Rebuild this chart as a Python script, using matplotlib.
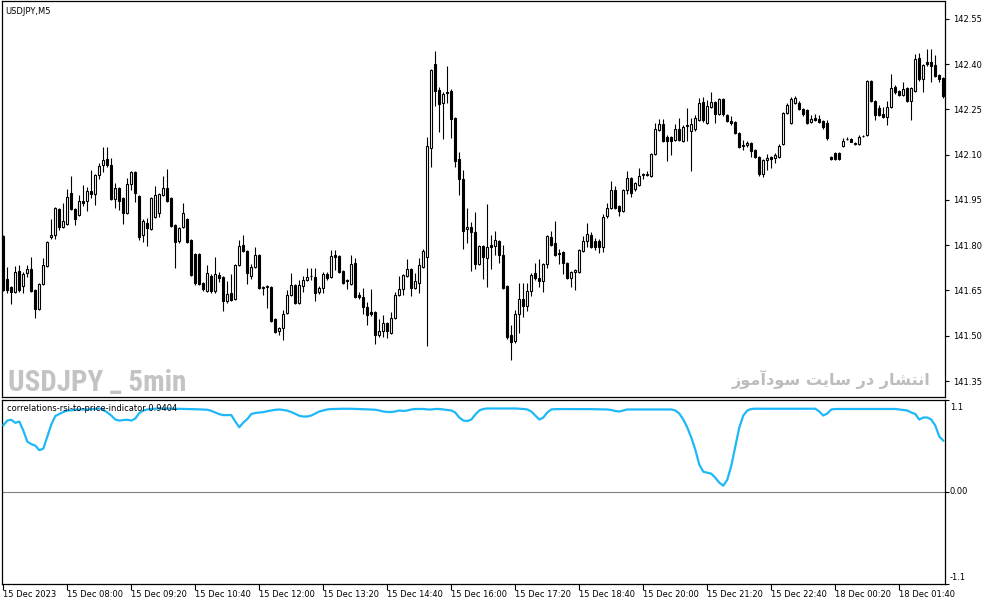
import matplotlib
matplotlib.use("Agg")
import matplotlib.pyplot as plt
import matplotlib.transforms as mtrans
import numpy as np

# ---------------- data ----------------
opens = [
    141.831, 141.688, 141.662, 141.645, 141.715, 141.665, 141.708, 141.721, 141.652, 141.589,
    141.672, 141.731, 141.827, 141.834, 141.920, 141.860, 141.870, 141.973, 141.920, 141.900,
    141.947, 141.947, 141.980, 141.970, 142.033, 142.066, 142.086, 142.066, 141.953, 141.990,
    141.957, 141.907, 142.003, 142.043, 141.963, 141.834, 141.874, 141.854, 141.894, 141.907,
    141.967, 141.990, 141.957, 141.867, 141.814, 141.860, 141.887, 141.817, 141.771, 141.771,
    141.675, 141.648, 141.698, 141.648, 141.701, 141.695, 141.615, 141.642, 141.622, 141.735,
    141.801, 141.781, 141.698, 141.728, 141.768, 141.662, 141.662, 141.662, 141.556, 141.516,
    141.526, 141.575, 141.635, 141.668, 141.609, 141.665, 141.685, 141.698, 141.695, 141.645,
    141.658, 141.705, 141.695, 141.768, 141.764, 141.715, 141.685, 141.672, 141.741, 141.635,
    141.628, 141.595, 141.579, 141.579, 141.502, 141.516, 141.542, 141.509, 141.559, 141.635,
    141.655, 141.698, 141.721, 141.658, 141.675, 141.728, 141.761, 142.122, 142.401, 142.315,
    142.272, 142.308, 142.311, 142.222, 142.086, 142.020, 141.854, 141.860, 141.844, 141.738,
    141.798, 141.758, 141.801, 141.798, 141.814, 141.768, 141.665, 141.502, 141.483, 141.572,
    141.622, 141.599, 141.648, 141.708, 141.691, 141.682, 141.738, 141.827, 141.808, 141.774,
    141.778, 141.741, 141.691, 141.711, 141.711, 141.781, 141.814, 141.834, 141.814, 141.814,
    141.794, 141.897, 141.924, 141.983, 141.930, 141.914, 141.983, 142.023, 141.986, 142.000,
    142.033, 142.033, 142.030, 142.102, 142.182, 142.202, 142.159, 142.159, 142.149, 142.185,
    142.146, 142.199, 142.179, 142.185, 142.215, 142.275, 142.205, 142.258, 142.275, 142.235,
    142.285, 142.232, 142.212, 142.209, 142.172, 142.132, 142.132, 142.139, 142.116, 142.093,
    142.036, 142.083, 142.093, 142.089, 142.093, 142.136, 142.238, 142.205, 142.272, 142.272,
    142.252, 142.248, 142.209, 142.222, 142.218, 142.212, 142.205, 142.093, 142.106, 142.106,
    142.129, 142.152, 142.152, 142.139, 142.136, 142.162, 142.166, 142.344, 142.278, 142.255,
    142.235, 142.225, 142.258, 142.325, 142.311, 142.298, 142.321, 142.278, 142.311, 142.421,
    142.351, 142.407, 142.407, 142.398, 142.364, 142.354,
]
highs = [
    141.834, 141.728, 141.665, 141.731, 141.735, 141.711, 141.735, 141.761, 141.655, 141.675,
    141.758, 141.814, 141.887, 141.927, 141.924, 141.940, 141.986, 142.030, 141.924, 141.967,
    142.000, 141.993, 142.049, 142.036, 142.073, 142.126, 142.126, 142.089, 142.006, 141.993,
    141.960, 142.023, 142.046, 142.046, 141.967, 141.887, 141.890, 141.960, 141.996, 141.973,
    142.030, 142.053, 141.960, 141.870, 141.860, 141.940, 141.890, 141.820, 141.774, 141.774,
    141.678, 141.735, 141.705, 141.761, 141.711, 141.698, 141.682, 141.705, 141.738, 141.817,
    141.834, 141.784, 141.738, 141.794, 141.771, 141.665, 141.668, 141.665, 141.559, 141.529,
    141.585, 141.652, 141.708, 141.672, 141.685, 141.698, 141.725, 141.725, 141.725, 141.665,
    141.711, 141.711, 141.784, 141.784, 141.768, 141.718, 141.688, 141.768, 141.758, 141.645,
    141.658, 141.612, 141.655, 141.582, 141.556, 141.569, 141.546, 141.579, 141.645, 141.698,
    141.705, 141.754, 141.725, 141.708, 141.758, 141.788, 142.159, 142.384, 142.444, 142.325,
    142.308, 142.394, 142.318, 142.225, 142.109, 142.049, 141.924, 141.877, 141.910, 141.801,
    141.801, 141.937, 141.834, 141.847, 141.817, 141.801, 141.668, 141.536, 141.585, 141.675,
    141.675, 141.675, 141.708, 141.741, 141.754, 141.741, 141.834, 141.847, 141.880, 141.788,
    141.781, 141.745, 141.715, 141.721, 141.788, 141.831, 141.874, 141.844, 141.824, 141.820,
    141.903, 141.940, 142.013, 141.996, 141.933, 141.986, 142.046, 142.026, 142.010, 142.056,
    142.040, 142.046, 142.106, 142.205, 142.218, 142.218, 142.166, 142.162, 142.202, 142.222,
    142.199, 142.255, 142.222, 142.232, 142.288, 142.291, 142.282, 142.308, 142.278, 142.288,
    142.288, 142.235, 142.228, 142.212, 142.176, 142.149, 142.146, 142.142, 142.119, 142.096,
    142.086, 142.102, 142.096, 142.106, 142.136, 142.242, 142.272, 142.291, 142.295, 142.278,
    142.255, 142.252, 142.232, 142.235, 142.232, 142.215, 142.215, 142.096, 142.109, 142.109,
    142.156, 142.159, 142.156, 142.142, 142.166, 142.166, 142.348, 142.348, 142.282, 142.265,
    142.258, 142.278, 142.368, 142.331, 142.315, 142.341, 142.325, 142.325, 142.434, 142.437,
    142.401, 142.451, 142.451, 142.431, 142.368, 142.358,
]
lows = [
    141.648, 141.642, 141.605, 141.642, 141.645, 141.642, 141.695, 141.645, 141.559, 141.585,
    141.668, 141.728, 141.821, 141.821, 141.851, 141.857, 141.867, 141.917, 141.867, 141.897,
    141.930, 141.914, 141.957, 141.933, 142.020, 142.043, 142.059, 141.950, 141.924, 141.917,
    141.870, 141.904, 141.983, 141.943, 141.817, 141.811, 141.798, 141.851, 141.890, 141.894,
    141.963, 141.943, 141.860, 141.725, 141.808, 141.857, 141.808, 141.698, 141.668, 141.668,
    141.648, 141.645, 141.642, 141.642, 141.678, 141.582, 141.609, 141.615, 141.619, 141.731,
    141.778, 141.672, 141.688, 141.725, 141.655, 141.635, 141.592, 141.546, 141.509, 141.502,
    141.486, 141.572, 141.632, 141.605, 141.605, 141.645, 141.682, 141.685, 141.615, 141.638,
    141.642, 141.685, 141.691, 141.718, 141.708, 141.672, 141.655, 141.668, 141.625, 141.622,
    141.572, 141.536, 141.566, 141.473, 141.496, 141.496, 141.492, 141.506, 141.556, 141.632,
    141.635, 141.695, 141.632, 141.655, 141.642, 141.725, 141.466, 142.059, 142.262, 142.175,
    142.152, 142.272, 142.156, 142.059, 141.967, 141.788, 141.808, 141.715, 141.721, 141.735,
    141.688, 141.662, 141.721, 141.768, 141.741, 141.655, 141.489, 141.420, 141.476, 141.509,
    141.562, 141.582, 141.632, 141.685, 141.662, 141.645, 141.725, 141.798, 141.764, 141.738,
    141.705, 141.688, 141.662, 141.652, 141.708, 141.778, 141.794, 141.791, 141.784, 141.774,
    141.778, 141.890, 141.920, 141.920, 141.897, 141.910, 141.970, 141.960, 141.980, 141.996,
    142.020, 142.030, 142.026, 142.099, 142.179, 142.142, 142.079, 142.099, 142.146, 142.146,
    142.142, 142.146, 142.046, 142.179, 142.212, 142.209, 142.202, 142.255, 142.205, 142.232,
    142.228, 142.209, 142.199, 142.169, 142.122, 142.116, 142.126, 142.093, 142.089, 142.030,
    142.026, 142.049, 142.056, 142.073, 142.089, 142.132, 142.235, 142.202, 142.268, 142.248,
    142.228, 142.202, 142.205, 142.212, 142.205, 142.185, 142.149, 142.083, 142.083, 142.083,
    142.126, 142.149, 142.142, 142.132, 142.132, 142.159, 142.162, 142.275, 142.215, 142.228,
    142.222, 142.199, 142.255, 142.301, 142.295, 142.295, 142.275, 142.215, 142.308, 142.344,
    142.308, 142.394, 142.341, 142.358, 142.341, 142.288,
]
closes = [
    141.652, 141.652, 141.645, 141.711, 141.652, 141.705, 141.721, 141.648, 141.589, 141.672,
    141.735, 141.811, 141.834, 141.924, 141.860, 141.880, 141.960, 141.920, 141.887, 141.947,
    141.940, 141.980, 141.970, 142.033, 142.063, 142.083, 142.066, 141.953, 141.990, 141.947,
    141.907, 142.003, 142.043, 141.973, 141.827, 141.880, 141.857, 141.957, 141.967, 141.970,
    141.990, 141.947, 141.864, 141.811, 141.857, 141.907, 141.811, 141.701, 141.675, 141.672,
    141.655, 141.708, 141.648, 141.705, 141.691, 141.615, 141.638, 141.619, 141.735, 141.798,
    141.781, 141.708, 141.728, 141.768, 141.658, 141.658, 141.665, 141.549, 141.512, 141.526,
    141.572, 141.635, 141.668, 141.609, 141.668, 141.685, 141.695, 141.698, 141.642, 141.658,
    141.705, 141.691, 141.764, 141.761, 141.711, 141.675, 141.682, 141.738, 141.628, 141.628,
    141.595, 141.569, 141.572, 141.502, 141.516, 141.542, 141.516, 141.559, 141.635, 141.655,
    141.701, 141.721, 141.658, 141.682, 141.735, 141.781, 142.129, 142.381, 142.311, 142.268,
    142.301, 142.305, 142.218, 142.079, 142.020, 141.847, 141.860, 141.844, 141.738, 141.798,
    141.761, 141.794, 141.794, 141.817, 141.768, 141.658, 141.496, 141.479, 141.572, 141.622,
    141.599, 141.648, 141.701, 141.691, 141.682, 141.738, 141.831, 141.801, 141.768, 141.771,
    141.741, 141.691, 141.711, 141.718, 141.784, 141.814, 141.837, 141.794, 141.794, 141.794,
    141.894, 141.924, 141.983, 141.924, 141.914, 141.983, 142.023, 141.973, 142.006, 142.030,
    142.036, 142.036, 142.102, 142.185, 142.202, 142.146, 142.146, 142.146, 142.185, 142.149,
    142.192, 142.195, 142.202, 142.222, 142.272, 142.215, 142.262, 142.275, 142.235, 142.285,
    142.235, 142.212, 142.205, 142.172, 142.126, 142.129, 142.139, 142.112, 142.093, 142.036,
    142.083, 142.089, 142.086, 142.099, 142.129, 142.238, 142.265, 142.285, 142.288, 142.252,
    142.235, 142.205, 142.218, 142.215, 142.209, 142.192, 142.156, 142.086, 142.086, 142.086,
    142.146, 142.152, 142.142, 142.136, 142.159, 142.162, 142.344, 142.278, 142.232, 142.232,
    142.225, 142.258, 142.321, 142.308, 142.298, 142.318, 142.278, 142.321, 142.417, 142.351,
    142.398, 142.401, 142.394, 142.361, 142.351, 142.295,
]
corr = [
    0.793, 0.849, 0.858, 0.822, 0.837, 0.730, 0.598, 0.568, 0.550, 0.496,
    0.514, 0.658, 0.801, 0.903, 0.927, 0.951, 0.969, 0.971, 0.978, 0.981,
    0.981, 0.981, 0.984, 0.989, 0.993, 0.977, 0.945, 0.909, 0.861, 0.849,
    0.855, 0.858, 0.849, 0.873, 0.939, 0.969, 0.981, 0.987, 0.990, 0.993,
    0.993, 0.992, 0.991, 0.990, 0.989, 0.988, 0.987, 0.986, 0.984, 0.982,
    0.980, 0.978, 0.965, 0.945, 0.925, 0.914, 0.914, 0.914, 0.837, 0.769,
    0.825, 0.867, 0.927, 0.939, 0.945, 0.949, 0.961, 0.969, 0.977, 0.981,
    0.975, 0.967, 0.950, 0.929, 0.906, 0.897, 0.897, 0.909, 0.933, 0.957,
    0.969, 0.981, 0.987, 0.987, 0.989, 0.990, 0.990, 0.989, 0.988, 0.986,
    0.984, 0.982, 0.980, 0.978, 0.969, 0.957, 0.951, 0.951, 0.957, 0.969,
    0.963, 0.969, 0.981, 0.987, 0.987, 0.987, 0.981, 0.981, 0.987, 0.987,
    0.981, 0.975, 0.969, 0.945, 0.885, 0.849, 0.843, 0.861, 0.921, 0.969,
    0.987, 0.993, 0.993, 0.993, 0.993, 0.993, 0.993, 0.993, 0.993, 0.990,
    0.987, 0.981, 0.957, 0.909, 0.861, 0.885, 0.945, 0.981, 0.985, 0.986,
    0.986, 0.986, 0.986, 0.986, 0.986, 0.985, 0.985, 0.985, 0.984, 0.984,
    0.983, 0.981, 0.975, 0.963, 0.957, 0.969, 0.981, 0.981, 0.981, 0.981,
    0.981, 0.981, 0.981, 0.981, 0.981, 0.981, 0.981, 0.981, 0.969, 0.933,
    0.861, 0.766, 0.646, 0.502, 0.323, 0.239, 0.227, 0.215, 0.167, 0.108,
    0.072, 0.144, 0.311, 0.538, 0.766, 0.909, 0.969, 0.987, 0.990, 0.990,
    0.990, 0.990, 0.990, 0.990, 0.990, 0.990, 0.990, 0.990, 0.990, 0.990,
    0.990, 0.990, 0.990, 0.990, 0.957, 0.909, 0.933, 0.981, 0.987, 0.987,
    0.987, 0.987, 0.987, 0.987, 0.987, 0.987, 0.987, 0.987, 0.987, 0.987,
    0.987, 0.987, 0.987, 0.987, 0.981, 0.975, 0.969, 0.945, 0.927, 0.861,
    0.885, 0.885, 0.861, 0.789, 0.658, 0.610,
]
price_ticks = [142.55, 142.40, 142.25, 142.10, 141.95, 141.80, 141.65, 141.50, 141.35]
time_labels = [
    "15 Dec 2023", "15 Dec 08:00", "15 Dec 09:20", "15 Dec 10:40", "15 Dec 12:00",
    "15 Dec 13:20", "15 Dec 14:40", "15 Dec 16:00", "15 Dec 17:20", "15 Dec 18:40",
    "15 Dec 20:00", "15 Dec 21:20", "15 Dec 22:40", "18 Dec 00:20", "18 Dec 01:40",
]
bars_per_label = 16
ind_ticks = [1.1, 0.0, -1.1]
ind_tick_labels = ["1.1", "0.00", "-1.1"]
symbol_title = "USDJPY,M5"
indicator_title = "correlations-rsi-to-price-indicator 0.9404"
watermark_left = "USDJPY _ 5min"
# Persian "انتشار در سایت سودآموز" in presentation forms, visual order
watermark_right = "\uFEAF\uFEEE\uFEE3\uFE81\uFEA9\uFEEE\uFEB3 \uFE96\uFEF3\uFE8E\uFEB3 \uFEAD\uFEA9 \uFEAD\uFE8E\uFEB8\uFE98\uFEE7\uFE8D"

# ---------------- layout ----------------
W, H = 987, 605
fig = plt.figure(figsize=(W / 100, H / 100), dpi=100)
fig.patch.set_facecolor("white")


def fx(px):
    return px / W


def fy(py):
    return 1 - py / H


TXT = dict(family=["DejaVu Sans"], fontsize=6, color="black")

ax1 = fig.add_axes([fx(2), fy(397), (945 - 2) / W, (397 - 0.5) / H])
ax2 = fig.add_axes([fx(2), fy(584), (945 - 2) / W, (584 - 399.5) / H])

n = len(closes)
xs = np.arange(n)

# ---- candles ----
ax1.vlines(xs, lows, highs, color="black", linewidth=0.8, zorder=2)
bottoms = [min(o, c) for o, c in zip(opens, closes)]
heights = [abs(c - o) for o, c in zip(opens, closes)]
faces = ["white" if c > o else "black" for o, c in zip(opens, closes)]
ax1.bar(xs, heights, bottom=bottoms, width=0.5, color=faces,
        edgecolor="black", linewidth=0.8, zorder=3)

ax1.set_xlim(-0.325, n - 1 + 0.425)
ax1.set_ylim(141.297, 142.611)
ax1.yaxis.tick_right()
ax1.set_yticks(price_ticks)
ax1.set_yticklabels([f"{p:.2f}" for p in price_ticks])
ax1.tick_params(axis="y", direction="out", length=3, width=0.8, pad=3,
                labelsize=6, colors="black")
ax1.set_xticks([])
for sp in ax1.spines.values():
    sp.set_color("black")
    sp.set_linewidth(0.9)

# ---- indicator ----
ax2.plot(xs, corr, color="#1EB8F8", linewidth=1.6, zorder=3)
ax2.axhline(0, color="#808080", linewidth=0.8, zorder=2)
ax2.set_xlim(-0.325, n - 1 + 0.425)
ax2.set_ylim(-1.1, 1.1)
ax2.yaxis.tick_right()
ax2.set_yticks(ind_ticks)
ax2.set_yticklabels([])
ax2.tick_params(axis="y", direction="out", length=3, width=0.8)
tick_pos = [i * bars_per_label for i in range(len(time_labels))]
ax2.set_xticks(tick_pos)
ax2.set_xticklabels(time_labels, ha="left")
ax2.tick_params(axis="x", direction="out", length=4, width=0.8, pad=0.5,
                labelsize=6, colors="black")
for sp in ax2.spines.values():
    sp.set_color("black")
    sp.set_linewidth(0.9)

# indicator scale labels (MT4 draws the extremes just inside the pane)
tr = mtrans.blended_transform_factory(fig.transFigure, ax2.transData)
offsets_px = [-7.5, 0.0, 6.5]
for v, lab, dy in zip(ind_ticks, ind_tick_labels, offsets_px):
    t = mtrans.offset_copy(tr, fig=fig, x=0, y=dy, units="dots")
    ax2.text(fx(950), v, lab, transform=t, va="center", ha="left",
             clip_on=False, **TXT)

# ---- texts ----
fig.text(fx(5), fy(11), symbol_title, va="center", ha="left", **TXT)
fig.text(fx(7), fy(408.5), indicator_title, va="center", ha="left", zorder=10, **TXT)
fig.text(fx(8), fy(391), watermark_left, va="baseline", ha="left",
         family=["Roboto Condensed", "Roboto", "DejaVu Sans"], fontweight="bold",
         fontsize=21, color="#c3c3c3")
fig.text(fx(930), fy(385), watermark_right, va="baseline", ha="right",
         family=["DejaVu Sans"], fontweight="bold", fontsize=11.6, color="#bdbdbd")

fig.savefig("out.png", dpi=100, facecolor="white")
